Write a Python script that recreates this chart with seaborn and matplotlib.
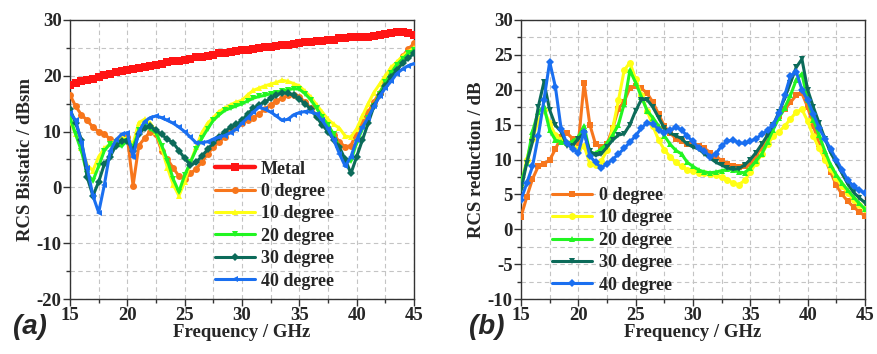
import numpy as np
import pandas as pd
import matplotlib
matplotlib.use("Agg")
import matplotlib.pyplot as plt
from matplotlib.ticker import MultipleLocator
import seaborn as sns

# Frequency grid (GHz)
freq = [15.0, 15.5, 16.0, 16.5, 17.0, 17.5, 18.0, 18.5, 19.0, 19.5,
        20.0, 20.5, 21.0, 21.5, 22.0, 22.5, 23.0, 23.5, 24.0, 24.5,
        25.0, 25.5, 26.0, 26.5, 27.0, 27.5, 28.0, 28.5, 29.0, 29.5,
        30.0, 30.5, 31.0, 31.5, 32.0, 32.5, 33.0, 33.5, 34.0, 34.5,
        35.0, 35.5, 36.0, 36.5, 37.0, 37.5, 38.0, 38.5, 39.0, 39.5,
        40.0, 40.5, 41.0, 41.5, 42.0, 42.5, 43.0, 43.5, 44.0, 44.5, 45.0]

# (a) bistatic RCS, dBsm
bist_metal = [18.4, 18.7, 19.0, 19.3, 19.5, 19.8, 20.1, 20.4, 20.6, 20.8,
              21.0, 21.2, 21.4, 21.6, 21.8, 22.0, 22.2, 22.4, 22.6, 22.7,
              22.9, 23.1, 23.3, 23.4, 23.6, 23.8, 24.0, 24.1, 24.3, 24.4,
              24.6, 24.7, 24.8, 25.0, 25.1, 25.2, 25.4, 25.5, 25.6, 25.7,
              25.8, 26.0, 26.1, 26.2, 26.3, 26.4, 26.5, 26.7, 26.8, 26.9,
              27.0, 27.0, 27.0, 27.1, 27.3, 27.5, 27.7, 27.8, 27.8, 27.6, 27.4]
bist_0 = [16.6, 14.5, 13.0, 12.0, 10.8, 10.0, 9.6, 8.6, 8.0, 8.4,
          9.0, 0.3, 7.5, 8.8, 10.0, 9.5, 6.5, 5.0, 3.5, 2.0,
          1.5, 2.5, 3.3, 4.6, 6.0, 7.2, 8.2, 9.0, 10.2, 11.0,
          11.6, 12.0, 12.5, 13.2, 14.0, 14.8, 15.5, 16.0, 16.5, 16.5,
          16.2, 15.3, 14.2, 12.8, 11.5, 10.5, 9.4, 8.2, 7.2, 7.5,
          9.8, 11.8, 13.5, 15.3, 17.0, 18.8, 20.5, 22.0, 23.5, 24.8, 25.8]
bist_10 = [12.0, 9.5, 7.0, 4.0, 3.0, 5.5, 7.0, 7.8, 8.5, 9.0,
           8.7, 7.8, 11.6, 12.2, 11.5, 10.0, 7.0, 3.5, 0.5, -1.5,
           1.0, 4.5, 7.2, 9.8, 11.5, 12.5, 13.6, 14.2, 14.8, 15.3,
           15.6, 16.6, 17.4, 17.8, 18.2, 18.5, 18.8, 19.2, 19.0, 18.6,
           18.2, 17.2, 16.2, 14.8, 13.5, 12.2, 11.3, 10.6, 9.2, 9.0,
           10.5, 12.8, 15.0, 17.0, 18.5, 20.0, 21.5, 22.5, 23.5, 24.3, 25.0]
bist_20 = [12.5, 9.5, 6.5, 2.4, 1.2, 3.8, 6.6, 7.8, 7.6, 7.4,
           8.4, 7.2, 10.2, 11.0, 10.5, 9.8, 7.5, 4.8, 1.5, -0.8,
           2.2, 4.5, 6.8, 8.8, 10.5, 12.0, 13.0, 13.8, 14.2, 14.6,
           15.0, 15.5, 16.0, 16.3, 16.5, 16.8, 17.0, 17.3, 17.5, 17.7,
           17.6, 16.8, 15.7, 14.2, 12.6, 11.2, 9.5, 7.0, 4.5, 4.8,
           8.0, 10.5, 12.5, 14.5, 16.8, 18.8, 20.5, 22.0, 23.0, 24.0, 24.6]
bist_30 = [14.0, 11.5, 8.5, 1.8, -1.5, 1.0, 4.2, 5.5, 7.5, 8.4,
           8.4, 6.6, 9.6, 10.6, 11.0, 10.2, 9.5, 8.6, 8.0, 6.6,
           5.2, 4.0, 4.5, 5.6, 6.8, 8.0, 9.0, 10.0, 10.8, 11.3,
           12.0, 13.2, 14.2, 14.8, 15.3, 16.0, 16.6, 16.9, 16.9, 16.5,
           15.8, 15.0, 14.0, 12.6, 11.2, 10.0, 8.5, 7.2, 5.0, 2.5,
           5.5, 8.5, 11.5, 14.5, 16.5, 18.2, 19.8, 21.0, 22.3, 23.2, 24.0]
bist_40 = [13.4, 12.0, 8.0, 3.5, -1.5, -4.5, 0.5, 6.5, 8.5, 9.5,
           9.8, 5.4, 10.0, 11.8, 12.5, 12.8, 12.5, 12.0, 11.5, 10.8,
           10.0, 9.0, 8.0, 8.0, 8.2, 8.6, 9.0, 9.3, 9.8, 10.4,
           11.5, 12.5, 13.5, 14.4, 14.0, 13.5, 12.8, 12.0, 12.2, 13.0,
           13.4, 13.6, 13.5, 13.2, 12.0, 10.5, 8.5, 6.0, 3.8, 5.5,
           8.5, 10.8, 12.5, 14.5, 16.3, 17.8, 19.0, 20.4, 21.2, 21.8, 22.2]

# (b) RCS reduction, dB
red_0 = [1.8, 4.6, 7.2, 9.0, 9.4, 9.9, 11.5, 13.2, 13.8, 13.0,
         12.3, 21.0, 15.0, 12.2, 11.8, 12.2, 14.5, 17.3, 18.3, 20.3,
         20.6, 20.2, 19.5, 18.2, 16.5, 14.8, 13.8, 13.0, 12.6, 12.2,
         12.2, 12.0, 11.6, 11.0, 10.5, 9.8, 9.3, 9.0, 8.9, 9.0,
         9.4, 10.4, 11.6, 13.2, 15.0, 16.2, 17.2, 18.2, 19.2, 19.5,
         17.5, 14.8, 12.2, 10.2, 8.2, 6.3, 5.0, 4.0, 3.2, 2.5, 1.9]
red_10 = [6.1, 10.0, 13.0, 15.5, 17.1, 15.2, 13.5, 12.8, 12.3, 11.8,
          11.5, 12.0, 9.4, 9.2, 9.8, 11.3, 14.5, 18.5, 22.8, 23.9,
          21.5, 19.2, 17.0, 14.8, 12.8, 11.4, 10.4, 9.6, 9.0, 8.5,
          8.3, 8.1, 8.0, 7.9, 7.8, 7.5, 7.1, 6.6, 6.4, 7.0,
          8.2, 9.5, 10.8, 12.2, 13.3, 14.0, 14.8, 15.8, 16.8, 17.2,
          15.5, 13.3, 11.6, 10.0, 8.6, 7.3, 6.2, 5.2, 4.2, 3.5, 2.9]
red_20 = [6.6, 9.5, 14.0, 16.8, 17.6, 14.2, 12.8, 12.5, 12.3, 12.6,
          13.2, 14.8, 11.0, 10.9, 11.5, 12.3, 13.5, 15.0, 18.0, 22.8,
          21.0, 19.0, 17.0, 16.0, 14.8, 13.4, 12.2, 11.3, 10.8, 9.6,
          9.0, 8.5, 8.2, 8.1, 8.2, 8.4, 8.6, 8.5, 8.2, 8.1,
          8.8, 9.8, 10.8, 12.5, 14.3, 16.0, 17.4, 19.2, 21.4, 22.3,
          18.5, 15.7, 13.5, 11.2, 9.2, 7.8, 6.6, 5.6, 4.6, 3.7, 2.9]
red_30 = [5.6, 9.5, 12.5, 17.5, 21.1, 17.1, 14.9, 14.0, 12.0, 12.0,
          13.0, 13.8, 11.2, 10.6, 10.8, 11.8, 12.8, 13.5, 13.7, 15.0,
          17.0, 18.6, 18.6, 17.5, 16.0, 14.5, 13.8, 13.4, 13.0, 12.2,
          11.8, 11.5, 10.8, 10.2, 9.6, 9.2, 8.8, 8.6, 8.7, 9.2,
          10.0, 11.0, 12.2, 13.5, 15.0, 16.8, 18.8, 21.0, 23.2, 24.4,
          20.0, 17.5, 15.2, 13.0, 11.0, 9.5, 8.0, 6.5, 5.3, 4.5, 3.8]
red_40 = [4.2, 6.6, 9.0, 13.3, 18.5, 24.0, 20.4, 14.4, 12.3, 11.5,
          11.0, 14.0, 10.5, 9.6, 8.8, 9.4, 10.0, 10.8, 11.6, 12.5,
          13.4, 14.5, 15.3, 15.1, 14.3, 13.8, 14.2, 14.6, 14.3, 13.3,
          12.6, 11.6, 11.2, 10.4, 10.8, 12.0, 12.6, 12.8, 12.4, 12.3,
          12.6, 13.0, 13.6, 14.2, 15.0, 16.6, 19.2, 22.0, 22.6, 20.0,
          18.5, 16.5, 14.5, 13.0, 11.5, 10.0, 8.5, 7.0, 6.2, 5.6, 5.2]

labels_a = ["Metal", "0 degree", "10 degree", "20 degree", "30 degree", "40 degree"]
labels_b = ["0 degree", "10 degree", "20 degree", "30 degree", "40 degree"]

RED = "#ff1414"
ORANGE = "#f7761c"
YELLOW = "#ffff14"
GREEN = "#22f522"
DKGREEN = "#0c6b5a"
BLUE = "#1a6ff0"

SERIF = ["Liberation Serif", "DejaVu Serif"]
SANS = ["Liberation Sans", "DejaVu Sans"]

sns.set_theme(style="ticks")
plt.rcParams["font.family"] = SERIF
plt.rcParams["font.weight"] = "bold"
plt.rcParams["axes.labelweight"] = "bold"
plt.rcParams["axes.unicode_minus"] = False

fig = plt.figure(figsize=(8.77, 3.54), dpi=100)
ax_a = fig.add_axes([70 / 877, 55 / 354, 344 / 877, 279 / 354])
ax_b = fig.add_axes([521 / 877, 55 / 354, 344 / 877, 279 / 354])

series_a = [
    (bist_metal, RED, "s"),
    (bist_0, ORANGE, "o"),
    (bist_10, YELLOW, "^"),
    (bist_20, GREEN, "v"),
    (bist_30, DKGREEN, "D"),
    (bist_40, BLUE, "<"),
]
series_b = [
    (red_0, ORANGE, "s"),
    (red_10, YELLOW, "o"),
    (red_20, GREEN, "^"),
    (red_30, DKGREEN, "v"),
    (red_40, BLUE, "D"),
]


def draw(ax, series, labels):
    for (vals, col, mk), lab in zip(series, labels):
        df = pd.DataFrame({"f": freq, "v": vals})
        thick = col == RED
        ms = 4.2 if mk == "D" else 5.0
        sns.lineplot(data=df, x="f", y="v", ax=ax, color=col, marker=mk,
                     markersize=ms + (0.8 if thick else 0), markeredgewidth=0,
                     linewidth=3.2 if thick else 2.2, label=lab, zorder=3)


draw(ax_a, series_a, labels_a)
draw(ax_b, series_b, labels_b)

for ax, (ylo, yhi, ymaj, ymin) in [(ax_a, (-20, 30, 10, 5)), (ax_b, (-10, 30, 5, 2.5))]:
    ax.set_xlim(15, 45)
    ax.set_ylim(ylo, yhi)
    ax.xaxis.set_major_locator(MultipleLocator(5))
    ax.xaxis.set_minor_locator(MultipleLocator(2.5))
    ax.yaxis.set_major_locator(MultipleLocator(ymaj))
    ax.yaxis.set_minor_locator(MultipleLocator(ymin))
    ax.grid(True, which="both", color="#c4c4c4", linestyle=(0, (4, 3)), linewidth=0.8, zorder=0)
    ax.set_axisbelow(True)
    for sp in ax.spines.values():
        sp.set_visible(True)
        sp.set_color("#333333")
        sp.set_linewidth(1.0)
    ax.tick_params(axis="both", which="major", direction="out", length=5, width=1,
                   color="#333333", labelsize=13.5, pad=1)
    ax.tick_params(axis="both", which="minor", direction="out", length=3, width=1,
                   color="#333333")
    for t in ax.get_xticklabels() + ax.get_yticklabels():
        t.set_fontweight("bold")
        t.set_family(SERIF)
    ax.set_xlabel("Frequency / GHz", fontsize=13.5, fontweight="bold", family=SERIF, labelpad=0)

ax_a.set_ylabel("RCS Bistatic / dBsm", fontsize=13.5, fontweight="bold", family=SERIF, labelpad=2)
ax_b.set_ylabel("RCS reduction / dB", fontsize=13.5, fontweight="bold", family=SERIF, labelpad=2)

leg_kw = dict(frameon=False, handlelength=2.2, handletextpad=0.35,
              labelspacing=0.3, borderaxespad=0.2,
              prop=dict(family=SERIF, weight="bold", size=13))
ax_a.legend(loc="upper left", bbox_to_anchor=(0.39, 0.535), **leg_kw)
ax_b.legend(loc="upper left", bbox_to_anchor=(0.06, 0.44), **leg_kw)

fig.text(30 / 877, 1 - 327 / 354, "(a)", fontsize=20, fontweight="bold", style="italic",
         family=SANS, ha="center", va="center")
fig.text(487 / 877, 1 - 327 / 354, "(b)", fontsize=20, fontweight="bold", style="italic",
         family=SANS, ha="center", va="center")

fig.savefig("out.png", dpi=100)
